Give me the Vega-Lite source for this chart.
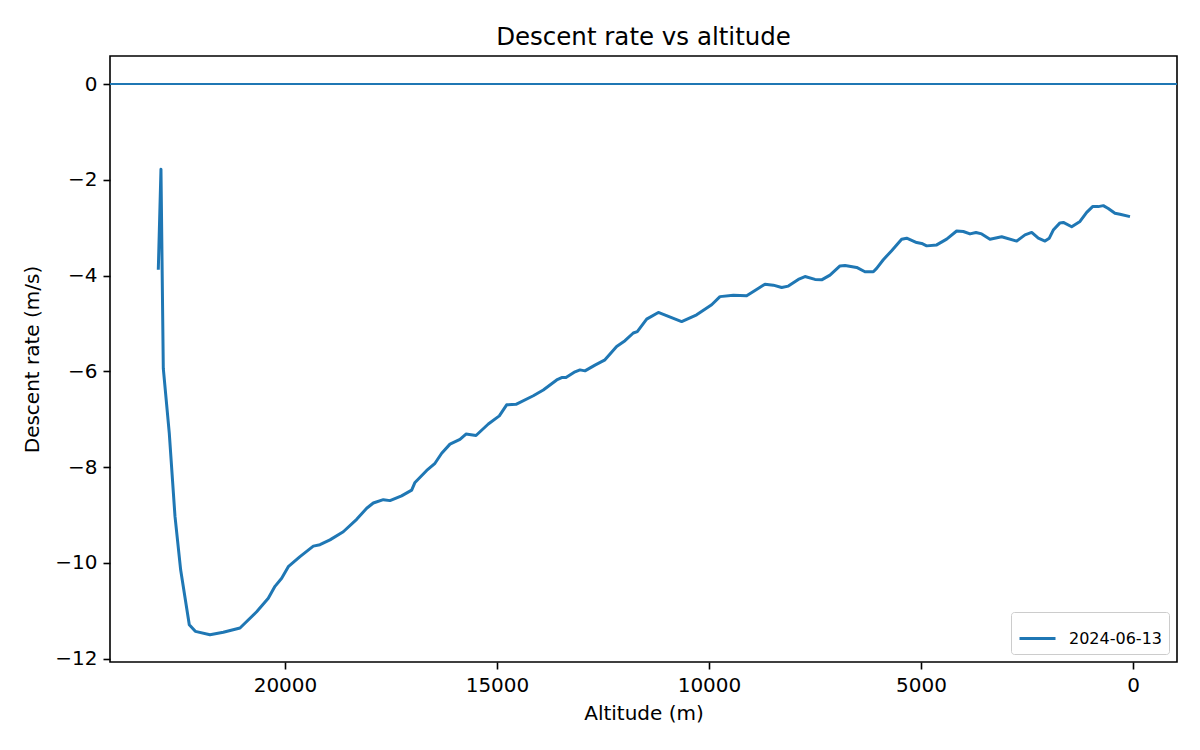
{
  "$schema": "https://vega.github.io/schema/vega-lite/v6.json",
  "width": 1067,
  "height": 606,
  "autosize": "none",
  "padding": {"left": 110, "top": 56, "right": 23, "bottom": 88},
  "background": "white",
  "title": {
    "text": "Descent rate vs altitude",
    "font": "DejaVu Sans",
    "fontSize": 24.5,
    "fontWeight": "normal",
    "color": "black",
    "offset": 6
  },
  "layer": [
    {
      "data": {"values": [{"zero": 0}]},
      "mark": {"type": "rule", "color": "#1f77b4", "strokeWidth": 2},
      "encoding": {
        "y": {"field": "zero", "type": "quantitative", "scale": {"domain": [-12.07, 0.585], "nice": false, "zero": false}}
      }
    },
    {
      "data": {
        "values": [
          {"date": "2024-06-13", "alt": 22988, "rate": -3.88},
          {"date": "2024-06-13", "alt": 22925, "rate": -1.78},
          {"date": "2024-06-13", "alt": 22870, "rate": -5.94},
          {"date": "2024-06-13", "alt": 22729, "rate": -7.29},
          {"date": "2024-06-13", "alt": 22594, "rate": -9.03},
          {"date": "2024-06-13", "alt": 22460, "rate": -10.15},
          {"date": "2024-06-13", "alt": 22257, "rate": -11.29},
          {"date": "2024-06-13", "alt": 22115, "rate": -11.43},
          {"date": "2024-06-13", "alt": 21769, "rate": -11.5},
          {"date": "2024-06-13", "alt": 21455, "rate": -11.45},
          {"date": "2024-06-13", "alt": 21061, "rate": -11.36},
          {"date": "2024-06-13", "alt": 20668, "rate": -11.02},
          {"date": "2024-06-13", "alt": 20394, "rate": -10.74},
          {"date": "2024-06-13", "alt": 20236, "rate": -10.49},
          {"date": "2024-06-13", "alt": 20078, "rate": -10.32},
          {"date": "2024-06-13", "alt": 19922, "rate": -10.08},
          {"date": "2024-06-13", "alt": 19646, "rate": -9.87},
          {"date": "2024-06-13", "alt": 19332, "rate": -9.65},
          {"date": "2024-06-13", "alt": 19175, "rate": -9.62},
          {"date": "2024-06-13", "alt": 18939, "rate": -9.52},
          {"date": "2024-06-13", "alt": 18625, "rate": -9.35},
          {"date": "2024-06-13", "alt": 18309, "rate": -9.09},
          {"date": "2024-06-13", "alt": 18073, "rate": -8.86},
          {"date": "2024-06-13", "alt": 17917, "rate": -8.75},
          {"date": "2024-06-13", "alt": 17681, "rate": -8.68},
          {"date": "2024-06-13", "alt": 17524, "rate": -8.7},
          {"date": "2024-06-13", "alt": 17250, "rate": -8.6},
          {"date": "2024-06-13", "alt": 17012, "rate": -8.48},
          {"date": "2024-06-13", "alt": 16934, "rate": -8.32},
          {"date": "2024-06-13", "alt": 16658, "rate": -8.07},
          {"date": "2024-06-13", "alt": 16462, "rate": -7.92},
          {"date": "2024-06-13", "alt": 16304, "rate": -7.71},
          {"date": "2024-06-13", "alt": 16108, "rate": -7.52},
          {"date": "2024-06-13", "alt": 15873, "rate": -7.42},
          {"date": "2024-06-13", "alt": 15731, "rate": -7.31},
          {"date": "2024-06-13", "alt": 15495, "rate": -7.34},
          {"date": "2024-06-13", "alt": 15204, "rate": -7.1},
          {"date": "2024-06-13", "alt": 14945, "rate": -6.93},
          {"date": "2024-06-13", "alt": 14772, "rate": -6.7},
          {"date": "2024-06-13", "alt": 14552, "rate": -6.69},
          {"date": "2024-06-13", "alt": 14143, "rate": -6.51},
          {"date": "2024-06-13", "alt": 13908, "rate": -6.39},
          {"date": "2024-06-13", "alt": 13592, "rate": -6.18},
          {"date": "2024-06-13", "alt": 13474, "rate": -6.13},
          {"date": "2024-06-13", "alt": 13373, "rate": -6.13},
          {"date": "2024-06-13", "alt": 13160, "rate": -6.01},
          {"date": "2024-06-13", "alt": 13042, "rate": -5.97},
          {"date": "2024-06-13", "alt": 12925, "rate": -5.99},
          {"date": "2024-06-13", "alt": 12689, "rate": -5.87},
          {"date": "2024-06-13", "alt": 12453, "rate": -5.76},
          {"date": "2024-06-13", "alt": 12178, "rate": -5.48},
          {"date": "2024-06-13", "alt": 11981, "rate": -5.36},
          {"date": "2024-06-13", "alt": 11785, "rate": -5.2},
          {"date": "2024-06-13", "alt": 11691, "rate": -5.17},
          {"date": "2024-06-13", "alt": 11470, "rate": -4.91},
          {"date": "2024-06-13", "alt": 11195, "rate": -4.77},
          {"date": "2024-06-13", "alt": 10645, "rate": -4.96},
          {"date": "2024-06-13", "alt": 10291, "rate": -4.82},
          {"date": "2024-06-13", "alt": 9937, "rate": -4.61},
          {"date": "2024-06-13", "alt": 9741, "rate": -4.44},
          {"date": "2024-06-13", "alt": 9426, "rate": -4.41},
          {"date": "2024-06-13", "alt": 9112, "rate": -4.42},
          {"date": "2024-06-13", "alt": 8915, "rate": -4.31},
          {"date": "2024-06-13", "alt": 8679, "rate": -4.18},
          {"date": "2024-06-13", "alt": 8483, "rate": -4.2},
          {"date": "2024-06-13", "alt": 8286, "rate": -4.25},
          {"date": "2024-06-13", "alt": 8129, "rate": -4.22},
          {"date": "2024-06-13", "alt": 7893, "rate": -4.08},
          {"date": "2024-06-13", "alt": 7736, "rate": -4.02},
          {"date": "2024-06-13", "alt": 7500, "rate": -4.08},
          {"date": "2024-06-13", "alt": 7343, "rate": -4.09},
          {"date": "2024-06-13", "alt": 7146, "rate": -3.99},
          {"date": "2024-06-13", "alt": 6910, "rate": -3.8},
          {"date": "2024-06-13", "alt": 6792, "rate": -3.79},
          {"date": "2024-06-13", "alt": 6517, "rate": -3.83},
          {"date": "2024-06-13", "alt": 6321, "rate": -3.92},
          {"date": "2024-06-13", "alt": 6124, "rate": -3.92},
          {"date": "2024-06-13", "alt": 6046, "rate": -3.85},
          {"date": "2024-06-13", "alt": 5889, "rate": -3.67},
          {"date": "2024-06-13", "alt": 5692, "rate": -3.48},
          {"date": "2024-06-13", "alt": 5456, "rate": -3.24},
          {"date": "2024-06-13", "alt": 5338, "rate": -3.22},
          {"date": "2024-06-13", "alt": 5102, "rate": -3.31},
          {"date": "2024-06-13", "alt": 4984, "rate": -3.33},
          {"date": "2024-06-13", "alt": 4866, "rate": -3.38},
          {"date": "2024-06-13", "alt": 4630, "rate": -3.36},
          {"date": "2024-06-13", "alt": 4394, "rate": -3.24},
          {"date": "2024-06-13", "alt": 4159, "rate": -3.07},
          {"date": "2024-06-13", "alt": 4002, "rate": -3.08},
          {"date": "2024-06-13", "alt": 3844, "rate": -3.13},
          {"date": "2024-06-13", "alt": 3703, "rate": -3.1},
          {"date": "2024-06-13", "alt": 3569, "rate": -3.13},
          {"date": "2024-06-13", "alt": 3373, "rate": -3.24},
          {"date": "2024-06-13", "alt": 3097, "rate": -3.19},
          {"date": "2024-06-13", "alt": 2743, "rate": -3.28},
          {"date": "2024-06-13", "alt": 2547, "rate": -3.15},
          {"date": "2024-06-13", "alt": 2389, "rate": -3.1},
          {"date": "2024-06-13", "alt": 2233, "rate": -3.22},
          {"date": "2024-06-13", "alt": 2075, "rate": -3.28},
          {"date": "2024-06-13", "alt": 1974, "rate": -3.22},
          {"date": "2024-06-13", "alt": 1880, "rate": -3.05},
          {"date": "2024-06-13", "alt": 1722, "rate": -2.9},
          {"date": "2024-06-13", "alt": 1643, "rate": -2.89},
          {"date": "2024-06-13", "alt": 1446, "rate": -2.98},
          {"date": "2024-06-13", "alt": 1250, "rate": -2.87},
          {"date": "2024-06-13", "alt": 1092, "rate": -2.68},
          {"date": "2024-06-13", "alt": 953, "rate": -2.56},
          {"date": "2024-06-13", "alt": 818, "rate": -2.56},
          {"date": "2024-06-13", "alt": 700, "rate": -2.54},
          {"date": "2024-06-13", "alt": 583, "rate": -2.6},
          {"date": "2024-06-13", "alt": 425, "rate": -2.7},
          {"date": "2024-06-13", "alt": 307, "rate": -2.72},
          {"date": "2024-06-13", "alt": 71, "rate": -2.77}
        ]
      },
      "mark": {"type": "line", "strokeWidth": 3, "strokeJoin": "round"},
      "encoding": {
        "x": {
          "field": "alt",
          "type": "quantitative",
          "title": "Altitude (m)",
          "scale": {"domain": [24127, -1038], "nice": false, "zero": false},
          "axis": {"values": [20000, 15000, 10000, 5000, 0], "format": "d"}
        },
        "y": {
          "field": "rate",
          "type": "quantitative",
          "title": "Descent rate (m/s)",
          "scale": {"domain": [-12.07, 0.585], "nice": false, "zero": false},
          "axis": {"values": [0, -2, -4, -6, -8, -10, -12], "format": "d"}
        },
        "color": {
          "field": "date",
          "type": "nominal",
          "scale": {"range": ["#1f77b4"]},
          "legend": {
            "title": null,
            "orient": "bottom-right",
            "offset": 8,
            "symbolType": "stroke",
            "symbolSize": 1296,
            "symbolStrokeWidth": 3,
            "labelFontSize": 16,
            "labelFont": "DejaVu Sans",
            "labelColor": "black",
            "labelOffset": 12,
            "strokeColor": "#cccccc",
            "fillColor": "white",
            "cornerRadius": 3,
            "padding": 7
          }
        }
      }
    }
  ],
  "config": {
    "font": "DejaVu Sans",
    "view": {"stroke": "black", "strokeWidth": 1.6},
    "axis": {
      "grid": false,
      "domain": false,
      "tickColor": "black",
      "tickSize": 7,
      "tickWidth": 1.6,
      "labelFont": "DejaVu Sans",
      "labelFontSize": 20,
      "labelColor": "black",
      "labelPadding": 6,
      "titleFont": "DejaVu Sans",
      "titleFontSize": 20,
      "titleFontWeight": "normal",
      "titleColor": "black"
    },
    "axisX": {"titlePadding": 8},
    "axisY": {"titlePadding": 12}
  }
}
